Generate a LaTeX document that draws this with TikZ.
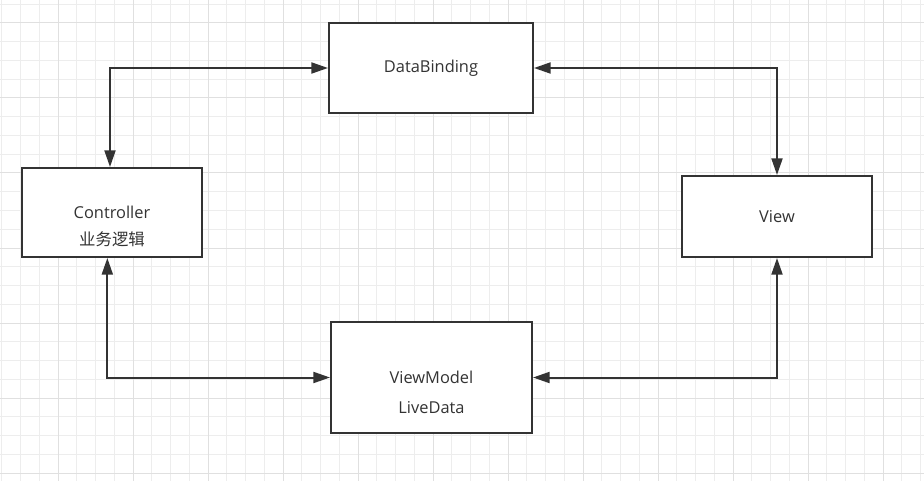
\documentclass[tikz,border=0pt]{standalone}
\usepackage{fontspec}
\setmainfont{Open Sans}
\newfontfamily\cjk{Noto Sans CJK SC}
\usetikzlibrary{arrows.meta}

\definecolor{ink}{HTML}{333333}
\definecolor{minorline}{HTML}{EDEDED}
\definecolor{majorline}{HTML}{E0E0E0}

\tikzset{
  box/.style={draw=ink, line width=1.5pt, fill=white, text=ink,
    font=\fontsize{12.3}{14}\selectfont, align=center, inner sep=0pt},
  lbl/.style={text=ink, font=\fontsize{12.3}{20}\selectfont, align=center},
  link/.style={draw=ink, line width=1.5pt,
    {Triangle[length=12.5pt,width=8.25pt]}-{Triangle[length=12.5pt,width=8.25pt]}},
}

\begin{document}
\begin{tikzpicture}[x=0.75pt, y=-0.75pt]
    \useasboundingbox[fill=white] (0,0) rectangle (924,481);

    % grid
    \foreach \i in {0,...,49}
      \draw[minorline, line width=0.75pt] ({1.75+18.75*\i},0) -- ({1.75+18.75*\i},481);
    \foreach \i in {0,...,25}
      \draw[minorline, line width=0.75pt] (0,{4.25+18.75*\i}) -- (924,{4.25+18.75*\i});
    \foreach \i in {1,...,12}
      \draw[majorline, line width=0.75pt] ({-17+75*\i},0) -- ({-17+75*\i},481);
    \foreach \i in {0,...,6}
      \draw[majorline, line width=0.75pt] (0,{23+75*\i}) -- (924,{23+75*\i});

    \node[box, minimum width=153pt, minimum height=67.5pt] (bind) at (431,68) {DataBinding};
    \node[box, minimum width=135pt, minimum height=66.75pt,
      label={[lbl, yshift=-10.5pt]center:{Controller\\{\cjk 业务逻辑}}}] (ctrl) at (112,212.5) {};
    \node[box, minimum width=142.5pt, minimum height=60.75pt] (view) at (777,216.5) {View};
    \node[box, minimum width=150.75pt, minimum height=83.25pt,
      label={[lbl, font=\fontsize{12.3}{22.5}\selectfont, yshift=-11.5pt]center:{ViewModel\\LiveData}}] (vm) at (431.5,377.5) {};

    \draw[link] ([xshift=-1.5pt]ctrl.north) |- (bind.west);
    \draw[link] (bind.east) -| (view.north);
    \draw[link] ([xshift=-3.5pt]ctrl.south) |- (vm.west);
    \draw[link] (vm.east) -| (view.south);
  \end{tikzpicture}
\end{document}
